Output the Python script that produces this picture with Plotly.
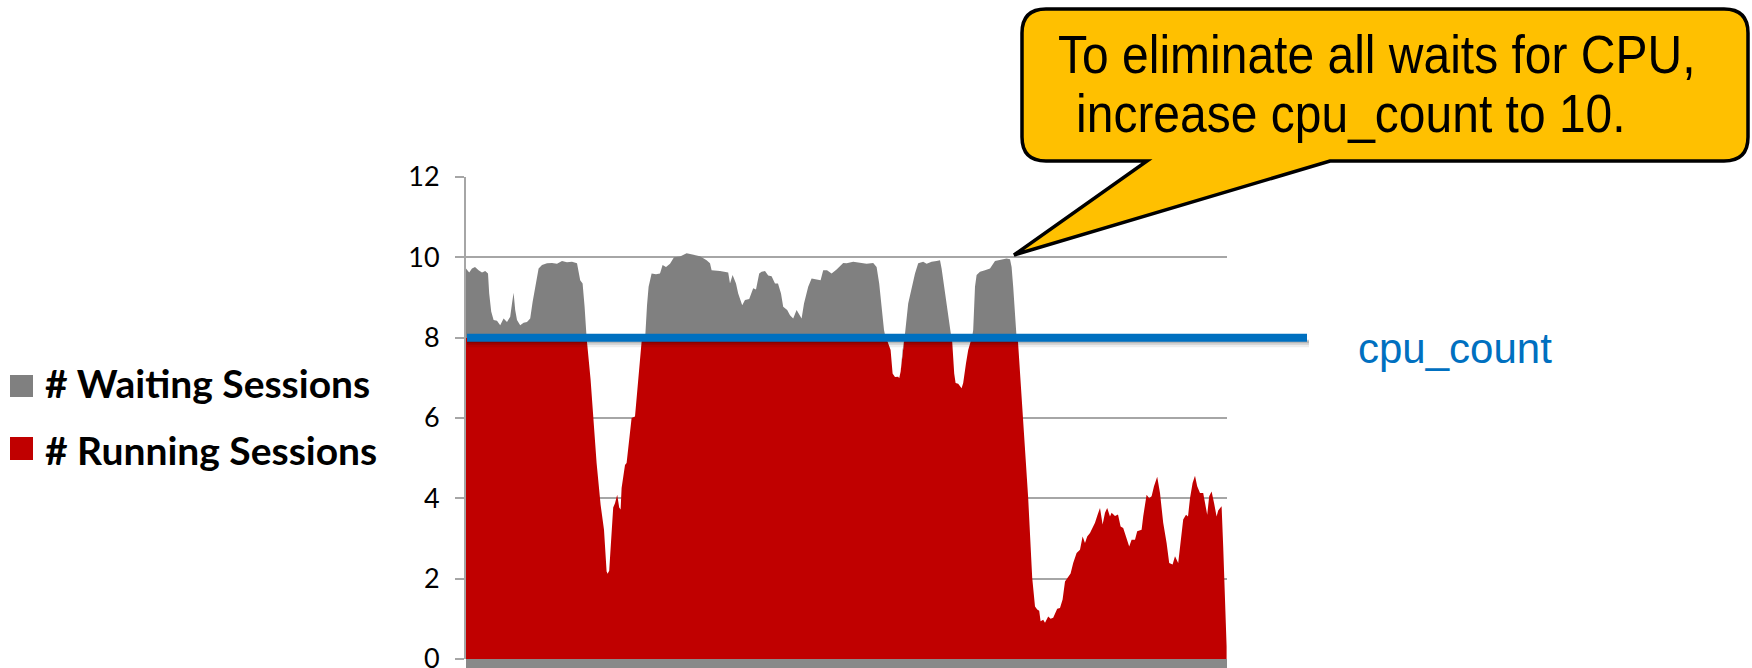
import plotly.graph_objects as go

# ---- data: active sessions sampled over the observation window ----
minute = [
    0, 1.6, 3, 4.5, 6.3, 8, 9.6, 11, 11.6, 12.6,
    13.8, 15.5, 17.1, 18.8, 20.5, 22.1, 23, 23.8, 24.6, 25.5,
    27.1, 28.8, 30.5, 32.1, 33.3, 34.6, 36.3, 38, 40.5, 43,
    45.5, 48, 50.5, 53, 55.5, 57.1, 58.3, 59.3, 60.3, 62.3,
    63.6, 65.3, 67.3, 69, 70.3, 70.8, 71.6, 72.8, 73.6, 74.5,
    75.6, 76.6, 77.3, 77.8, 79.5, 80.3, 81.6, 82.8, 84.5, 85.3,
    86.1, 87.8, 88.7, 89.7, 90.5, 91.3, 92.8, 95, 97, 98.3,
    100, 102, 104, 107, 110.3, 113.6, 117, 120.3, 122, 122.8,
    127, 131.1, 132, 133.3, 135, 136.1, 138.1, 139.5, 141.6, 143.6,
    145, 146.6, 147.8, 149.5, 151.1, 152.8, 154.5, 156, 157.5, 158.6,
    160.6, 162, 163.6, 165.3, 167, 167.8, 169, 171.1, 172.8, 175.3,
    177.3, 178.6, 180.5, 182.8, 185.3, 188.6, 190.3, 193.6, 197, 200.3,
    203.6, 205.3, 206.6, 207.8, 209, 209.8, 210.8, 212.3, 213.3, 214.5,
    216.1, 216.6, 217.3, 218.3, 219, 219.5, 221.1, 222.8, 224.5, 226.1,
    228.6, 230.3, 232.8, 235.3, 237, 237.8, 239, 240.3, 242, 242.7,
    243.1, 243.6, 244.1, 244.8, 246.1, 247.8, 248.6, 250, 251.1, 252.3,
    253, 253.6, 254.5, 255.3, 257, 259.5, 262, 264.5, 267, 270.3,
    272, 272.8, 273.6, 274.5, 275.3, 276, 277, 277.8, 278.6, 279.8,
    281.1, 283.1, 284.5, 285.6, 286.6, 287.3, 288.6, 289.5, 291.1, 292.3,
    293.6, 294.5, 295.6, 297, 298.3, 299.5, 301.1, 302.3, 303.6, 305.3,
    307, 308.3, 309.5, 310.6, 312, 313.3, 314.5, 315.8, 317, 318.3,
    319.5, 320.6, 322, 322.8, 324.5, 326, 327.3, 328.6, 330.3, 331.6,
    332.8, 334.5, 335.6, 337.8, 338.6, 340.3, 341.6, 342.8, 344, 345.6,
    347, 348.6, 350.3, 351.6, 353.3, 354.5, 356.1, 357.3, 358.6, 360,
    361, 362, 363.3, 364.5, 365.6, 367, 368.6, 369.5, 370.6, 371.6,
    372.8, 374, 375.3, 376.1, 377, 377.8, 378.6, 379.5, 380.3,
]

running_sessions = [
    8, 8, 8, 8, 8, 8, 8, 8, 8, 8,
    8, 8, 8, 8, 8, 8, 8, 8, 8, 8,
    8, 8, 8, 8, 8, 8, 8, 8, 8, 8,
    8, 8, 8, 8, 8, 8, 8, 8, 8, 6.95,
    6.0, 4.88, 3.84, 3.22, 2.18, 2.12, 2.2, 3.22, 3.77, 3.88,
    4.09, 3.77, 3.72, 4.26, 4.83, 4.88, 5.46, 6.0, 6.04, 6.45,
    6.95, 7.9, 8, 8, 8, 8, 8, 8, 8, 8,
    8, 8, 8, 8, 8, 8, 8, 8, 8, 8,
    8, 8, 8, 8, 8, 8, 8, 8, 8, 8,
    8, 8, 8, 8, 8, 8, 8, 8, 8, 8,
    8, 8, 8, 8, 8, 8, 8, 8, 8, 8,
    8, 8, 8, 8, 8, 8, 8, 8, 8, 8,
    8, 8, 8, 8, 8, 8, 7.9, 7.69, 7.11, 7.02,
    7.03, 6.99, 7.15, 7.69, 7.9, 8, 8, 8, 8, 8,
    8, 8, 8, 8, 8, 8, 8, 8, 8, 8,
    7.9, 7.53, 7.11, 6.87, 6.85, 6.74, 6.87, 7.36, 7.69, 7.9,
    8, 8, 8, 8, 8, 8, 8, 8, 8, 8,
    8, 8, 8, 8, 8, 7.9, 7.2, 6.53, 5.9, 5.0,
    4.0, 2.02, 1.31, 1.23, 1.2, 0.94, 0.98, 0.90, 1.06, 1.0,
    1.03, 1.15, 1.25, 1.27, 1.48, 1.93, 2.05, 2.13, 2.39, 2.64,
    2.72, 3.05, 2.89, 3.05, 3.14, 3.26, 3.39, 3.59, 3.76, 3.35,
    3.64, 3.76, 3.55, 3.64, 3.56, 3.6, 3.30, 3.26, 2.97, 2.80,
    2.97, 2.97, 3.18, 3.22, 3.55, 4.09, 4.00, 4.05, 4.30, 4.54,
    4.13, 3.39, 2.89, 2.39, 2.35, 2.56, 2.39, 2.97, 3.47, 3.59,
    3.55, 4.0, 4.38, 4.56, 4.30, 4.13, 4.13, 3.89, 3.59, 4.05,
    4.17, 3.89, 3.55, 3.7, 3.76, 3.80, 2.80, 1.15, 0.32,
]

waiting_sessions = [
    1.72, 1.62, 1.72, 1.76, 1.68, 1.62, 1.66, 1.60, 1.10, 0.65,
    0.44, 0.42, 0.31, 0.48, 0.39, 0.52, 0.85, 1.12, 0.69, 0.44,
    0.31, 0.37, 0.39, 0.48, 0.89, 1.27, 1.72, 1.81, 1.85, 1.86,
    1.84, 1.91, 1.88, 1.89, 1.85, 1.43, 1.35, 0.77, 0, 0,
    0, 0, 0, 0, 0, 0, 0, 0, 0, 0,
    0, 0, 0, 0, 0, 0, 0, 0, 0, 0,
    0, 0, 0, 0.1, 0.8, 1.27, 1.6, 1.58, 1.6, 1.81,
    1.76, 1.84, 2.0, 2.02, 2.1, 2.06, 2.03, 1.93, 1.85, 1.68,
    1.66, 1.62, 1.35, 1.56, 1.35, 1.10, 0.81, 0.94, 0.96, 1.23,
    1.2, 1.60, 1.64, 1.66, 1.55, 1.53, 1.35, 1.35, 1.10, 0.77,
    0.69, 0.56, 0.48, 0.69, 0.52, 0.48, 0.85, 1.27, 1.47, 1.45,
    1.43, 1.68, 1.68, 1.60, 1.70, 1.86, 1.85, 1.89, 1.87, 1.84,
    1.86, 1.76, 1.35, 0.77, 0.19, 0, 0, 0, 0, 0,
    0, 0, 0, 0, 0, 0.1, 0.85, 1.27, 1.6, 1.85,
    1.89, 1.84, 1.89, 1.91, 1.93, 1.72, 1.27, 0.77, 0.19, 0,
    0, 0, 0, 0, 0, 0, 0, 0, 0, 0,
    0, 0.19, 1.27, 1.56, 1.64, 1.68, 1.72, 1.91, 1.93, 1.97,
    1.95, 1.76, 1.27, 0.60, 0, 0, 0, 0, 0, 0,
    0, 0, 0, 0, 0, 0, 0, 0, 0, 0,
    0, 0, 0, 0, 0, 0, 0, 0, 0, 0,
    0, 0, 0, 0, 0, 0, 0, 0, 0, 0,
    0, 0, 0, 0, 0, 0, 0, 0, 0, 0,
    0, 0, 0, 0, 0, 0, 0, 0, 0, 0,
    0, 0, 0, 0, 0, 0, 0, 0, 0, 0,
    0, 0, 0, 0, 0, 0, 0, 0, 0, 0,
    0, 0, 0, 0, 0, 0, 0, 0, 0,
]

assert len(minute) == len(running_sessions) == len(waiting_sessions)

CPU_COUNT = 8
Y_MAX = 12
y_ticks = [0, 2, 4, 6, 8, 10, 12]

series_names = ["# Waiting Sessions", "# Running Sessions"]
series_colors = ["#808080", "#C00000"]
callout_lines = ["To eliminate all waits for CPU,", "increase cpu_count to 10."]
cpu_label = "cpu_count"

# ---- canvas geometry (pixels) ----
W, H = 1752, 668
PL, PR, PT, PB = 466, 1227, 177, 659


def px(x):
    """pixel x -> paper x"""
    return (x - PL) / (PR - PL)


def py(y):
    """pixel y -> paper y"""
    return (PB - y) / (PB - PT)


fig = go.Figure()

# stacked area: running sessions first, waiting sessions on top
fig.add_trace(go.Scatter(
    x=minute, y=running_sessions, name=series_names[1],
    stackgroup="load", mode="lines", line=dict(width=0),
    fillcolor=series_colors[1], hoverinfo="skip", showlegend=False,
))
fig.add_trace(go.Scatter(
    x=minute, y=waiting_sessions, name=series_names[0],
    stackgroup="load", mode="lines", line=dict(width=0),
    fillcolor=series_colors[0], hoverinfo="skip", showlegend=False,
))

shapes = []

# thick grey category axis along the bottom
shapes.append(dict(type="rect", xref="paper", yref="paper",
                   x0=0, x1=1, y0=0, y1=py(670),
                   fillcolor="#898989", line=dict(width=0), layer="above"))

# cpu_count reference line with a soft drop shadow
cpu_y = CPU_COUNT / Y_MAX
line_end = px(1307)
for off, wdt, alpha in [(7, 5, 0.07), (5, 4, 0.12), (3.5, 3, 0.18)]:
    shapes.append(dict(type="line", xref="paper", yref="paper",
                       x0=px(PL + 1), x1=line_end + px(PL + 2),
                       y0=cpu_y - off / (PB - PT), y1=cpu_y - off / (PB - PT),
                       line=dict(color=f"rgba(0,0,0,{alpha})", width=wdt),
                       layer="above"))
shapes.append(dict(type="line", xref="paper", yref="paper",
                   x0=px(PL + 1), x1=line_end, y0=cpu_y, y1=cpu_y,
                   line=dict(color="#0070C0", width=8), layer="above"))

# speech-bubble callout
bx0, by0, bx1, by1, rad = 1022, 9, 1748, 161, 24
tip = (1014, 255)
base_l, base_r = 1147, 1330


def P(x, y):
    return f"{px(x):.5f},{py(y):.5f}"


path = (
    f"M {P(bx0 + rad, by0)} L {P(bx1 - rad, by0)} "
    f"Q {P(bx1, by0)} {P(bx1, by0 + rad)} "
    f"L {P(bx1, by1 - rad)} Q {P(bx1, by1)} {P(bx1 - rad, by1)} "
    f"L {P(base_r, by1)} L {P(*tip)} L {P(base_l, by1)} "
    f"L {P(bx0 + rad, by1)} Q {P(bx0, by1)} {P(bx0, by1 - rad)} "
    f"L {P(bx0, by0 + rad)} Q {P(bx0, by0)} {P(bx0 + rad, by0)} Z"
)
shapes.append(dict(type="path", xref="paper", yref="paper", path=path,
                   fillcolor="#FFC000", line=dict(color="black", width=3.5),
                   layer="above"))

# legend swatches
shapes.append(dict(type="rect", xref="paper", yref="paper",
                   x0=px(10), x1=px(33), y0=py(397), y1=py(375),
                   fillcolor=series_colors[0], line=dict(width=0)))
shapes.append(dict(type="rect", xref="paper", yref="paper",
                   x0=px(10), x1=px(33), y0=py(460), y1=py(437),
                   fillcolor=series_colors[1], line=dict(width=0)))

annotations = []
legend_font = dict(family="Lato", size=39, color="black", weight="bold")
annotations.append(dict(xref="paper", yref="paper", x=px(43), y=py(383),
                        xanchor="left", yanchor="middle", showarrow=False,
                        text="<b>" + series_names[0] + "</b>", font=legend_font))
annotations.append(dict(xref="paper", yref="paper", x=px(43), y=py(450),
                        xanchor="left", yanchor="middle", showarrow=False,
                        text="<b>" + series_names[1] + "</b>", font=legend_font))

annotations.append(dict(xref="paper", yref="paper", x=px(1356), y=py(348),
                        xanchor="left", yanchor="middle", showarrow=False,
                        text=cpu_label,
                        font=dict(family="Liberation Sans", size=42, color="#0070C0")))

callout_font = dict(family="Liberation Sans", size=48, color="black")
annotations.append(dict(xref="paper", yref="paper", x=px(1056), y=py(54),
                        xanchor="left", yanchor="middle", showarrow=False,
                        text=callout_lines[0], font=callout_font))
annotations.append(dict(xref="paper", yref="paper", x=px(1074), y=py(113),
                        xanchor="left", yanchor="middle", showarrow=False,
                        text=callout_lines[1], font=callout_font))

fig.update_layout(
    width=W, height=H,
    margin=dict(l=PL, r=W - PR, t=PT, b=H - PB, pad=0, autoexpand=False),
    paper_bgcolor="white", plot_bgcolor="white",
    showlegend=False,
    xaxis=dict(range=[0, 380.5], visible=False, fixedrange=True,
               automargin=False),
    yaxis=dict(
        range=[0, Y_MAX], tickvals=y_ticks, ticktext=[str(v) for v in y_ticks],
        showgrid=True, gridcolor="#A6A6A6", gridwidth=2,
        zeroline=False, showline=True, linecolor="#A6A6A6", linewidth=2,
        ticks="outside", ticklen=9, tickwidth=2, tickcolor="#A6A6A6",
        tickfont=dict(family="Lato", size=27, color="black"),
        ticklabelstandoff=10, ticklabeloverflow="allow", fixedrange=True,
        automargin=False,
    ),
    shapes=shapes,
    annotations=annotations,
)

# the callout lettering is set in a tall, condensed style
stretch_js = """
document.querySelectorAll('.annotation-text').forEach(function (t) {
  var s = t.textContent;
  if (s.indexOf('eliminate') >= 0 || s.indexOf('increase') >= 0) {
    t.style.transformBox = 'fill-box';
    t.style.transformOrigin = 'center';
    t.style.transform = 'scaleY(1.12)';
  }
});
"""

fig.write_html("out.html", config={"displayModeBar": False}, post_script=stretch_js)
